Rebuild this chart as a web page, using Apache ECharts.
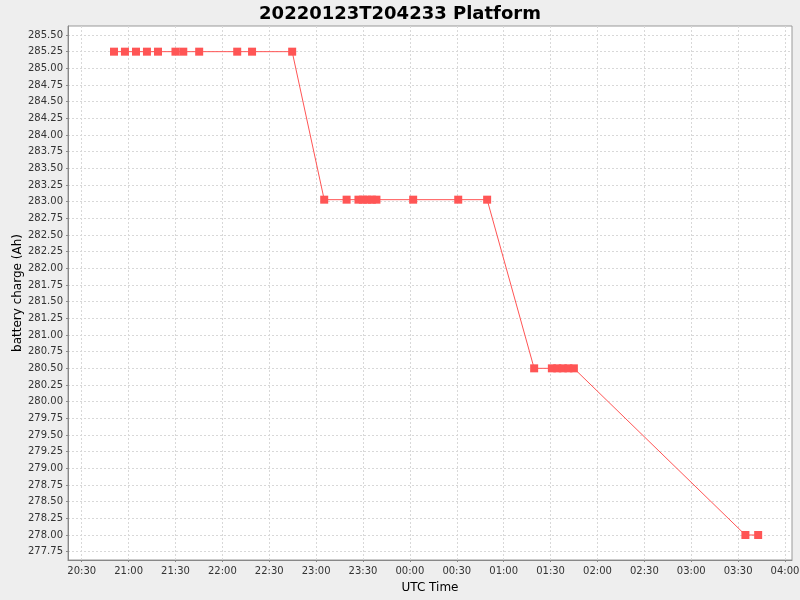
<!DOCTYPE html>
<html>
<head>
<meta charset="utf-8">
<script src="https://cdn.jsdelivr.net/npm/echarts@6/dist/echarts.min.js"></script>
<style>
html,body{margin:0;padding:0;background:#eeeeee;}
#chart{width:800px;height:600px;}
</style>
</head>
<body>
<div id="chart"></div>
<script>
// UTC sample times (after midnight = next day)
const times = [
  '20:50:40','20:57:40','21:04:45','21:11:45','21:18:50','21:30:00','21:35:00','21:45:10','22:09:30','22:19:00','22:44:40',
  '23:05:10','23:19:30','23:27:05','23:29:55','23:32:50','23:35:40','23:38:35','00:02:05','00:30:55','00:49:25',
  '01:19:30','01:30:50','01:34:20','01:37:50','01:41:25','01:44:55',
  '03:34:40','03:42:50'
];
const charge = [
  285.25,285.25,285.25,285.25,285.25,285.25,285.25,285.25,285.25,285.25,285.25,
  283.03,283.03,283.03,283.03,283.03,283.03,283.03,283.03,283.03,283.03,
  280.50,280.50,280.50,280.50,280.50,280.50,
  278.00,278.00
];
const xTickLabels = ['20:30','21:00','21:30','22:00','22:30','23:00','23:30','00:00','00:30','01:00','01:30','02:00','02:30','03:00','03:30','04:00'];
const yTickLabels = ['277.75','278.00','278.25','278.50','278.75','279.00','279.25','279.50','279.75','280.00','280.25','280.50','280.75','281.00','281.25','281.50','281.75','282.00','282.25','282.50','282.75','283.00','283.25','283.50','283.75','284.00','284.25','284.50','284.75','285.00','285.25','285.50'];

// minutes since 20:00 of the start day
function toMin(s){
  const p = s.split(':').map(Number);
  let h = p[0]; if (h < 12) h += 24;
  return (h - 20) * 60 + p[1] + (p[2] || 0) / 60;
}
function minToLabel(m){
  let tot = Math.round(m) + 20*60;
  let h = Math.floor(tot/60) % 24, mm = tot % 60;
  return String(h).padStart(2,'0') + ':' + String(mm).padStart(2,'0');
}
const xTicks = xTickLabels.map(toMin);
const yTicks = yTickLabels.map(Number);
const data = times.map((t,i)=>[toMin(t), charge[i]]);

const chart = echarts.init(document.getElementById('chart'), null, {renderer:'canvas'});
const gridDash = {color:'#d8d8d8', type:[2,2], width:1};
chart.setOption({
  backgroundColor:'#eeeeee',
  animation:false,
  title:{
    text:'20220123T204233 Platform',
    left:'center', top:0,
    textStyle:{fontFamily:'DejaVu Sans', fontSize:18, fontWeight:'bold', color:'#000'}
  },
  grid:{left:68, right:8, top:26, bottom:40, outerBoundsMode:'none', containLabel:false, show:true, backgroundColor:'#ffffff', borderColor:'#999999', borderWidth:1},
  xAxis:{
    type:'value',
    min: toMin('20:21:14'), max: toMin('04:04:29'),
    name:'UTC Time', nameLocation:'middle', nameGap:22, nameMoveOverlap:false,
    nameTextStyle:{fontFamily:'DejaVu Sans', fontSize:12, color:'#000'},
    axisLine:{show:true, onZero:false, lineStyle:{color:'#888888'}},
    axisTick:{show:true, length:2, customValues:xTicks, lineStyle:{color:'#888888'}},
    axisLabel:{customValues:xTicks, formatter:v=>minToLabel(v), fontFamily:'DejaVu Sans', fontSize:10, color:'#333', margin:6},
    splitLine:{show:true, lineStyle:gridDash}
  },
  yAxis:{
    type:'value',
    min:277.625, max:285.635,
    name:'battery charge (Ah)', nameLocation:'middle', nameGap:44, nameMoveOverlap:false,
    nameTextStyle:{fontFamily:'DejaVu Sans', fontSize:12, color:'#000'},
    axisLine:{show:true, onZero:false, lineStyle:{color:'#888888'}},
    axisTick:{show:true, length:2, customValues:yTicks, lineStyle:{color:'#888888'}},
    axisLabel:{customValues:yTicks, formatter:v=>v.toFixed(2), fontFamily:'DejaVu Sans', fontSize:10, color:'#333', margin:5},
    splitLine:{show:true, lineStyle:gridDash}
  },
  series:[{
    type:'line',
    data:data,
    symbol:'rect', symbolSize:8,
    showAllSymbol:true,
    itemStyle:{color:'#ff5555'},
    lineStyle:{color:'#ff5555', width:1},
    emphasis:{disabled:true}
  }]
});
</script>
</body>
</html>
